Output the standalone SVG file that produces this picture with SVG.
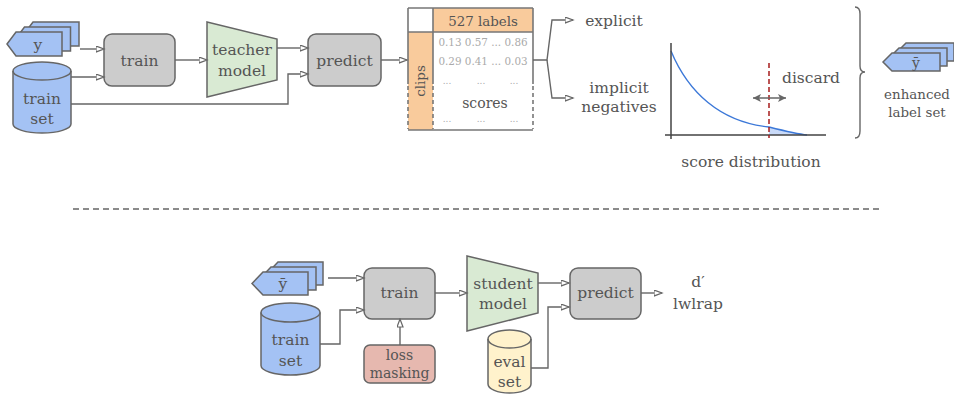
<svg xmlns="http://www.w3.org/2000/svg" width="954" height="394" viewBox="0 0 954 394">
  <style>
    text { font-family: "DejaVu Serif", "Liberation Serif", serif; fill: #555; text-anchor: middle; }
    .t16 { font-size: 15.5px; }
    .t14 { font-size: 14px; }
    .t13 { font-size: 13.4px; }
    .num { font-size: 10.4px; fill: #aaa; }
    .dots { font-size: 9px; fill: #aaa; }
    .box { fill: #cccccc; stroke: #666; stroke-width: 1.5; }
    .model { fill: #d9ead3; stroke: #666; stroke-width: 1.5; }
    .blue { fill: #a4c2f4; stroke: #666; stroke-width: 1.5; }
    .yellow { fill: #fff2cc; stroke: #666; stroke-width: 1.5; }
    .pink { fill: #e6b8af; stroke: #666; stroke-width: 1.5; }
    .orange { fill: #f9cb9c; }
    .edge { fill: none; stroke: #666; stroke-width: 1.4; marker-end: url(#open); }
    .tline { fill: none; stroke: #777; stroke-width: 1.6; }
    .tdash { fill: none; stroke: #777; stroke-width: 1.6; stroke-dasharray: 4 3; }
  </style>
  <defs>
    <marker id="open" markerUnits="userSpaceOnUse" markerWidth="10" markerHeight="10" refX="8.5" refY="3.5" orient="auto">
      <path d="M0.5,0.5 L8.5,3.5 L0.5,6.5 Z" fill="#fff" stroke="#666" stroke-width="1.2"/>
    </marker>
    <marker id="solid" markerUnits="userSpaceOnUse" markerWidth="10" markerHeight="10" refX="8" refY="4" orient="auto-start-reverse">
      <path d="M0,0 L8,4 L0,8 L2,4 Z" fill="#666"/>
    </marker>
    <path id="tag" d="M0,0 L10,-12 L56,-12 L56,12 L10,12 Z"/>
  </defs>

  <!-- top pipeline: teacher -->
  <g id="labels-y">
    <path class="blue" d="M24,34 L33,22 L79,22 L79,46 L33,46 Z"/>
    <path class="blue" d="M15.5,39 L24.5,27 L70.5,27 L70.5,51 L24.5,51 Z"/>
    <path class="blue" d="M7,44 L16,32 L62,32 L62,56 L16,56 Z"/>
    <text class="t16" x="38" y="50">y</text>
  </g>
  <g id="train-set-top">
    <path class="blue" d="M13,71 A29,9 0 0 1 71,71 V124 A29,9 0 0 1 13,124 Z"/>
    <path fill="none" stroke="#666" stroke-width="1.5" d="M13,71 A29,9 0 0 0 71,71"/>
    <text class="t16" x="42" y="104">train</text>
    <text class="t16" x="42" y="124">set</text>
  </g>
  <g id="train-top">
    <rect class="box" x="104" y="34" width="71" height="52" rx="8"/>
    <text class="t16" x="139.5" y="66">train</text>
  </g>
  <g id="teacher-model">
    <path class="model" d="M207,22 L277,39 L277,80 L207,97 Z"/>
    <text class="t16" x="242" y="55">teacher</text>
    <text class="t16" x="242" y="76">model</text>
  </g>
  <g id="predict-top">
    <rect class="box" x="308" y="34" width="73" height="52" rx="8"/>
    <text class="t16" x="344.5" y="66">predict</text>
  </g>

  <!-- score table -->
  <g id="score-table">
    <rect x="408" y="8" width="125" height="122" fill="#fff"/>
    <rect class="orange" x="433" y="8" width="100" height="24"/>
    <rect class="orange" x="408" y="32" width="25" height="98"/>
    <path class="tline" d="M408,8 H533 M408,32 H533 M408,130 H533 M408,8 V84 M433,8 V84 M533,8 V84"/>
    <path class="tdash" d="M408,86 V129 M433,86 V129 M533,86 V129"/>
    <text class="t13" x="483" y="26">527 labels</text>
    <text class="t13" transform="translate(425,81) rotate(-90)">clips</text>
    <text class="num" x="483" y="46">0.13  0.57 ... 0.86</text>
    <text class="num" x="483" y="65">0.29  0.41 ... 0.03</text>
    <text class="dots" x="447" y="84">...</text>
    <text class="dots" x="481" y="84">...</text>
    <text class="dots" x="514" y="84">...</text>
    <text class="t14" x="485" y="108">scores</text>
    <text class="dots" x="447" y="122">...</text>
    <text class="dots" x="481" y="122">...</text>
    <text class="dots" x="514" y="122">...</text>
  </g>

  <g id="explicit">
    <text class="t16" x="614" y="26">explicit</text>
  </g>
  <g id="implicit-negatives">
    <text class="t16" x="619" y="93">implicit</text>
    <text class="t16" x="619" y="112">negatives</text>
  </g>

  <!-- score distribution chart -->
  <g id="score-distribution">
    <path d="M769,127 C785,131 797,134 807,135 L769,135 Z" fill="#c9daf8"/>
    <path d="M671,51 C688,92 720,122 769,127 C785,131 797,134 807,135" fill="none" stroke="#3c78d8" stroke-width="1.4"/>
    <path d="M671,43 V139 M665,135 H826" fill="none" stroke="#444" stroke-width="1.5"/>
    <path d="M769,63 V138" fill="none" stroke="#a61c1c" stroke-width="1.5" stroke-dasharray="5 3"/>
    <path d="M753,98 H786" fill="none" stroke="#666" stroke-width="1.4" marker-start="url(#solid)" marker-end="url(#solid)"/>
    <text class="t16" x="811" y="83">discard</text>
    <text class="t16" x="751" y="167">score distribution</text>
  </g>

  <g id="brace">
    <path d="M855,7 Q860,7 860,14 V66 Q860,72 865,72 Q860,72 860,78 V131 Q860,138 855,138" fill="none" stroke="#666" stroke-width="1.4"/>
  </g>

  <g id="enhanced-label-set">
    <path class="blue" d="M897,52 L906,43 L954,43 L954,61 L906,61 Z"/>
    <path class="blue" d="M890,57 L899,48 L947,48 L947,66 L899,66 Z"/>
    <path class="blue" d="M883,62 L892,53 L940,53 L940,71 L892,71 Z"/>
    <text class="t14" x="916" y="68">ȳ</text>
    <text class="t13" x="917" y="99">enhanced</text>
    <text class="t13" x="917" y="117">label set</text>
  </g>

  <!-- separator -->
  <path d="M73,209 H881" fill="none" stroke="#666" stroke-width="1.5" stroke-dasharray="6 4"/>

  <!-- bottom pipeline: student -->
  <g id="labels-ybar">
    <path class="blue" d="M267,273.5 L278,262 L323,262 L323,285 L278,285 Z"/>
    <path class="blue" d="M260,278.5 L271,267 L316,267 L316,290 L271,290 Z"/>
    <path class="blue" d="M252,283.5 L263,272 L308,272 L308,295 L263,295 Z"/>
    <text class="t16" x="283" y="289">ȳ</text>
  </g>
  <g id="train-set-bottom">
    <path class="blue" d="M261,312.5 A29.5,9.5 0 0 1 320,312.5 V365.5 A29.5,9.5 0 0 1 261,365.5 Z"/>
    <path fill="none" stroke="#666" stroke-width="1.5" d="M261,312.5 A29.5,9.5 0 0 0 320,312.5"/>
    <text class="t16" x="290.5" y="345">train</text>
    <text class="t16" x="290.5" y="366">set</text>
  </g>
  <g id="train-bottom">
    <rect class="box" x="364" y="268" width="71" height="51" rx="8"/>
    <text class="t16" x="399.5" y="298">train</text>
  </g>
  <g id="loss-masking">
    <rect class="pink" x="364" y="345" width="71" height="38" rx="6"/>
    <text class="t14" x="399.5" y="360">loss</text>
    <text class="t14" x="399.5" y="378">masking</text>
  </g>
  <g id="student-model">
    <path class="model" d="M467,256 L538,273 L538,313 L467,331 Z"/>
    <text class="t16" x="503" y="289">student</text>
    <text class="t16" x="503" y="309">model</text>
  </g>
  <g id="predict-bottom">
    <rect class="box" x="570" y="268" width="71" height="51" rx="8"/>
    <text class="t16" x="605.5" y="298">predict</text>
  </g>
  <g id="eval-set">
    <path class="yellow" d="M488,339 A21.5,9 0 0 1 531,339 V384 A21.5,9 0 0 1 488,384 Z"/>
    <path fill="none" stroke="#666" stroke-width="1.5" d="M488,339 A21.5,9 0 0 0 531,339"/>
    <text class="t16" x="509.5" y="367">eval</text>
    <text class="t16" x="509.5" y="387">set</text>
  </g>
  <g id="metrics">
    <text class="t16" x="698" y="287">d′</text>
    <text class="t16" x="698" y="309">lwlrap</text>
  </g>

  <!-- connectors -->
  <g id="connectors">
    <path class="edge" d="M80,49 H104"/>
    <path class="edge" d="M71,77 H104"/>
    <path class="edge" d="M71,104 H288 V74 H308"/>
    <path class="edge" d="M175,60 H207"/>
    <path class="edge" d="M277,48 H308"/>
    <path class="edge" d="M381,60 H407"/>
    <path class="edge" d="M533,60 H547 L552,20 H573"/>
    <path class="edge" d="M547,60 L552,98 H573"/>
    <path class="edge" d="M328,278 H364"/>
    <path class="edge" d="M320,344 H340 V310 H364"/>
    <path class="edge" d="M400,345 V319"/>
    <path class="edge" d="M435,293 H467"/>
    <path class="edge" d="M538,283 H569"/>
    <path class="edge" d="M531,368 H548 V307 H569"/>
    <path class="edge" d="M641,293 H662"/>
  </g>
</svg>
